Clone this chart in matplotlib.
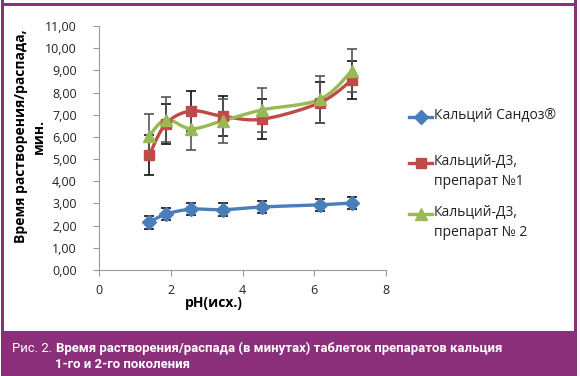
import numpy as np
import matplotlib.pyplot as plt
from matplotlib.patches import Rectangle
from matplotlib.lines import Line2D

# data
ph = [1.4, 1.87, 2.57, 3.46, 4.55, 6.15, 7.05]
sandoz = [2.15, 2.52, 2.74, 2.72, 2.84, 2.94, 3.02]
sandoz_err = [0.28, 0.28, 0.28, 0.28, 0.28, 0.27, 0.29]
d3_1 = [5.18, 6.6, 7.17, 6.93, 6.8, 7.54, 8.56]
d3_1_err = [0.9, 0.9, 0.9, 0.9, 0.9, 0.93, 0.85]
d3_2 = [6.05, 6.78, 6.37, 6.73, 7.22, 7.69, 8.98]
d3_2_err = [1.0, 1.0, 0.95, 1.0, 1.0, 1.05, 0.97]

labels = ['Кальций Сандоз®', 'Кальций-Д3,\nпрепарат №1', 'Кальций-Д3,\nпрепарат № 2']
colors = ['#4a7ebb', '#be4b48', '#98b954']
markers = ['D', 's', '^']
msizes = [7, 7.5, 8]
err_colors = ['#111111', '#111111', '#555555']
yticks = np.arange(0, 11.5, 1.0)
xticks = [0, 2, 4, 6, 8]

W, H = 580, 376
purple = '#8c2f7b'
font = ['Open Sans', 'DejaVu Sans']
plt.rcParams['font.family'] = font


def fx(x):
    return x / W


def fy(y):
    return 1 - y / H


def smooth(x, y, n=20):
    # Catmull-Rom style curve like Excel's smoothed lines
    x = np.asarray(x, float)
    y = np.asarray(y, float)
    px = np.concatenate([[x[0]], x, [x[-1]]])
    py = np.concatenate([[y[0]], y, [y[-1]]])
    xs, ys = [], []
    t = np.linspace(0, 1, n)
    for i in range(1, len(px) - 2):
        p0, p1, p2, p3 = (np.array([px[j], py[j]]) for j in (i - 1, i, i + 1, i + 2))
        c1 = p1 + (p2 - p0) / 6
        c2 = p2 - (p3 - p1) / 6
        b = ((1 - t) ** 3)[:, None] * p1 + (3 * (1 - t) ** 2 * t)[:, None] * c1 \
            + (3 * (1 - t) * t ** 2)[:, None] * c2 + (t ** 3)[:, None] * p2
        xs.extend(b[:, 0])
        ys.extend(b[:, 1])
    return xs, ys


fig = plt.figure(figsize=(W / 100, H / 100), dpi=100, facecolor='white')
ax = fig.add_axes([fx(99), fy(270), fx(386) - fx(99), fy(26) - fy(270)])

series = [(sandoz, sandoz_err), (d3_1, d3_1_err), (d3_2, d3_2_err)]
for i, (vals, err) in enumerate(series):
    sx, sy = smooth(ph, vals)
    ax.plot(sx, sy, color=colors[i], lw=2.4, zorder=3, solid_capstyle='round')
    ax.errorbar(ph, vals, yerr=err, fmt='none', ecolor=err_colors[i],
                elinewidth=1.2, capsize=3.5, capthick=1.2, zorder=4)
    ax.plot(ph, vals, ls='none', marker=markers[i], ms=msizes[i],
            color=colors[i], mec=colors[i], zorder=5)

ax.set_xlim(0, 8)
ax.set_ylim(0, 11)
ax.set_xticks(xticks)
ax.set_xticklabels([str(v) for v in xticks])
ax.set_yticks(yticks)
ax.set_yticklabels([f'{v:.2f}'.replace('.', ',') for v in yticks])
ax.tick_params(labelsize=9, labelcolor='#222222', color='#999999', length=4, width=0.8)
ax.tick_params(axis='y', pad=12)
ax.tick_params(axis='x', pad=6)
for s in ['top', 'right']:
    ax.spines[s].set_visible(False)
for s in ['left', 'bottom']:
    ax.spines[s].set_color('#999999')
    ax.spines[s].set_linewidth(0.8)

# axis titles
fig.text(fx(30), fy(136), 'Время растворения/распада,\nмин.', rotation=90,
         ha='center', va='center', ma='center', fontsize=10, fontweight='bold',
         linespacing=1.4)
fig.text(fx(214), fy(303), 'pH(исх.)', ha='center', va='center',
         fontsize=10, fontweight='bold')

# legend drawn by hand so markers sit on the first line of each label
leg_y = [117, 163, 214]
for i, lab in enumerate(labels):
    yy = fy(leg_y[i])
    fig.add_artist(Line2D([fx(409), fx(432)], [yy, yy], color=colors[i], lw=2.4))
    fig.add_artist(Line2D([fx(420.5)], [yy], ls='none', marker=markers[i],
                          ms=msizes[i], color=colors[i]))
    fig.text(fx(434), yy + 9 / H, lab, ha='left', va='top', fontsize=10,
             linespacing=1.45, color='#222222')

# frame and caption band
fig.add_artist(Rectangle((fx(1), fy(376)), fx(3), 1, color=purple, lw=0, transform=fig.transFigure))
fig.add_artist(Rectangle((fx(574), fy(376)), fx(3), 1, color=purple, lw=0, transform=fig.transFigure))
fig.add_artist(Rectangle((fx(1), fy(6)), fx(576), 3 / H, color=purple, lw=0, transform=fig.transFigure))
fig.add_artist(Rectangle((fx(1), 0), fx(576), fy(331), color=purple, lw=0, transform=fig.transFigure))

# caption: narrow font, size fitted a bit wider than the reference line
cap_kw = dict(family=['Roboto', 'DejaVu Sans'], color='white', va='center', ha='left')
t1 = fig.text(fx(12), fy(348), 'Рис. 2. ', fontsize=10, **cap_kw)
t2 = fig.text(0, fy(348), 'Время растворения/распада (в минутах) таблеток препаратов кальция',
              fontsize=10, fontweight='bold', **cap_kw)
t3 = fig.text(fx(55), fy(365), '1-го и 2-го поколения', fontsize=10, fontweight='bold', **cap_kw)
r = fig.canvas.get_renderer()
w = t1.get_window_extent(r).width + t2.get_window_extent(r).width
scale = (500 - 12) / w
for t in (t1, t2, t3):
    t.set_fontsize(10 * scale)
t2.set_x((12 + t1.get_window_extent(r).width) / W)

fig.savefig('out.png', dpi=100, facecolor='white')
